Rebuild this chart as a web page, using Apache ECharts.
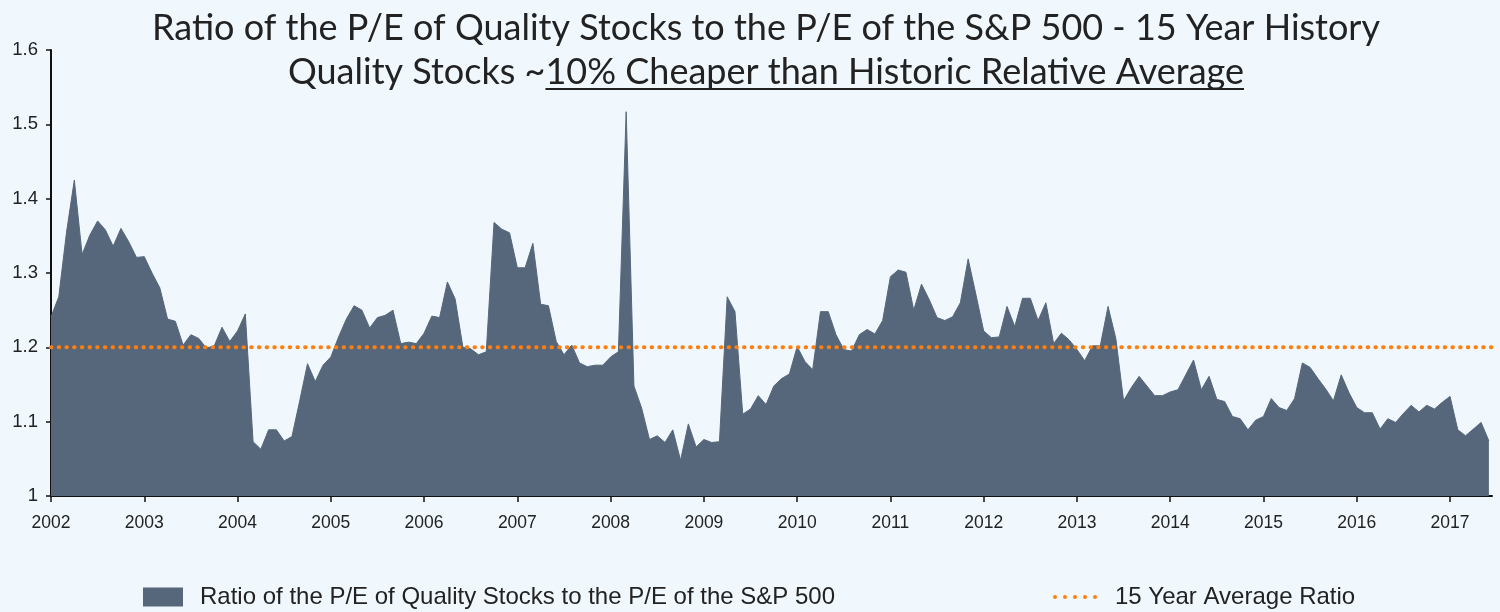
<!DOCTYPE html>
<html>
<head>
<meta charset="utf-8">
<script src="https://cdn.jsdelivr.net/npm/echarts@6/dist/echarts.min.js"></script>
<style>
  html, body { margin: 0; padding: 0; background: #f0f8fe; }
  #chart { width: 1500px; height: 612px; }
</style>
</head>
<body>
<div id="chart"></div>
<script>
// monthly ratio, Jan 2002 .. Jun 2017
var startYear = 2002;
var ratio = [
  1.241, 1.268, 1.355, 1.425, 1.325, 1.351, 1.370, 1.358, 1.336, 1.360, 1.342, 1.321,
  1.322, 1.300, 1.280, 1.238, 1.235, 1.203, 1.217, 1.212, 1.199, 1.202, 1.227, 1.208,
  1.222, 1.245, 1.073, 1.063, 1.089, 1.089, 1.074, 1.080, 1.128, 1.178, 1.154, 1.176,
  1.187, 1.214, 1.238, 1.256, 1.250, 1.226, 1.240, 1.243, 1.250, 1.205, 1.207, 1.205,
  1.219, 1.242, 1.240, 1.288, 1.265, 1.200, 1.198, 1.190, 1.194, 1.368, 1.359, 1.354,
  1.307, 1.307, 1.340, 1.258, 1.256, 1.208, 1.190, 1.203, 1.179, 1.174, 1.176, 1.176,
  1.187, 1.194, 1.517, 1.148, 1.118, 1.076, 1.081, 1.072, 1.089, 1.048, 1.097, 1.066,
  1.076, 1.072, 1.073, 1.268, 1.248, 1.110, 1.117, 1.135, 1.123, 1.148, 1.158, 1.164,
  1.201, 1.181, 1.170, 1.248, 1.248, 1.217, 1.197, 1.195, 1.217, 1.224, 1.218, 1.236,
  1.295, 1.304, 1.301, 1.250, 1.285, 1.264, 1.240, 1.236, 1.241, 1.260, 1.319, 1.271,
  1.222, 1.213, 1.214, 1.255, 1.228, 1.266, 1.266, 1.236, 1.260, 1.205, 1.219, 1.210,
  1.197, 1.182, 1.202, 1.202, 1.255, 1.212, 1.128, 1.146, 1.161, 1.148, 1.135, 1.135,
  1.140, 1.143, 1.163, 1.183, 1.143, 1.161, 1.130, 1.127, 1.107, 1.104, 1.089, 1.102,
  1.107, 1.131, 1.119, 1.115, 1.131, 1.179, 1.173, 1.158, 1.144, 1.128, 1.163, 1.139,
  1.119, 1.112, 1.112, 1.090, 1.104, 1.099, 1.111, 1.122, 1.113, 1.122, 1.117, 1.126,
  1.134, 1.089, 1.081, 1.090, 1.099, 1.074
];
var avgRatio = 1.2;
var xMin = 2002, xMax = 2017.45;
var seriesNames = ['Ratio of the P/E of Quality Stocks to the P/E of the S&P 500', '15 Year Average Ratio'];
var title1 = 'Ratio of the P/E of Quality Stocks to the P/E of the S&P 500 - 15 Year History';
var title2a = 'Quality Stocks ~';
var title2b = '10% Cheaper than Historic Relative Average';

var ratioData = ratio.map(function (v, i) { return [startYear + i / 12, v]; });
var avgData = [[xMin, avgRatio], [xMax, avgRatio]];

// underline position for the second title line
var titleFont = '36px Lato';
var ctx = document.createElement('canvas').getContext('2d');
ctx.font = titleFont;
var wA = ctx.measureText(title2a).width, wB = ctx.measureText(title2b).width;
var cx = 766, x2 = cx - (wA + wB) / 2;

// five dots for the average-ratio legend key
var dotsIcon = 'path://M0,2a2,2 0 1,0 4,0a2,2 0 1,0 -4,0z' +
    'M10,2a2,2 0 1,0 4,0a2,2 0 1,0 -4,0z' +
    'M20,2a2,2 0 1,0 4,0a2,2 0 1,0 -4,0z' +
    'M30,2a2,2 0 1,0 4,0a2,2 0 1,0 -4,0z' +
    'M40,2a2,2 0 1,0 4,0a2,2 0 1,0 -4,0z';

var ech = echarts.init(document.getElementById('chart'));
var option = {
    backgroundColor: '#f0f8fe',
    animation: false,
    grid: { left: 51, right: 8, top: 50, bottom: 116 },
    legend: [
        {
            data: [{ name: seriesNames[0], icon: 'rect' }],
            left: 138, top: 580,
            itemWidth: 40, itemHeight: 19,
            textStyle: { fontSize: 24, color: '#222', fontFamily: 'Liberation Sans, Arial', padding: [0, 0, 0, 12] }
        },
        {
            data: [{ name: seriesNames[1], icon: dotsIcon }],
            left: 1048, top: 580,
            itemWidth: 44, itemHeight: 4,
            itemStyle: { borderWidth: 0 },
            textStyle: { fontSize: 24, color: '#222', fontFamily: 'Liberation Sans, Arial', padding: [0, 0, 0, 13] }
        }
    ],
    xAxis: {
        type: 'value', min: xMin, max: xMax, interval: 1,
        axisLine: { lineStyle: { color: '#111', width: 2 } },
        axisTick: { length: 6, lineStyle: { color: '#111', width: 1.5 } },
        axisLabel: {
            margin: 18, fontSize: 17.5, color: '#222', fontFamily: 'Liberation Sans, Arial',
            showMaxLabel: false,
            formatter: function (v) { return Math.round(v) === v ? String(v) : ''; }
        },
        splitLine: { show: false }
    },
    yAxis: {
        type: 'value', min: 1, max: 1.6, interval: 0.1,
        axisLine: { show: true, lineStyle: { color: '#111', width: 2 } },
        axisTick: { show: true, length: 5, lineStyle: { color: '#111', width: 1.5 } },
        axisLabel: { margin: 13, fontSize: 18.5, color: '#222', fontFamily: 'Liberation Sans, Arial' },
        splitLine: { show: false }
    },
    series: [
        {
            name: seriesNames[0], type: 'line', data: ratioData,
            showSymbol: false, symbol: 'none',
            itemStyle: { color: '#56677c' },
            lineStyle: { width: 1, color: '#56677c' },
            areaStyle: { color: '#56677c', opacity: 1, origin: 'start' },
            z: 2
        },
        {
            name: seriesNames[1], type: 'line', data: avgData,
            showSymbol: false, symbol: 'none',
            itemStyle: { color: '#ff7f0e' },
            lineStyle: { width: 4, color: '#ff7f0e', type: [0.5, 7.2], cap: 'round' },
            z: 3
        }
    ],
    graphic: [
        { type: 'text', x: cx, y: 28, style: { text: title1, font: titleFont, fill: '#222', align: 'center', verticalAlign: 'middle' } },
        { type: 'text', x: x2, y: 72, style: { text: title2a, font: titleFont, fill: '#222', align: 'left', verticalAlign: 'middle' } },
        { type: 'text', x: x2 + wA, y: 72, style: { text: title2b, font: titleFont, fill: '#222', align: 'left', verticalAlign: 'middle' } },
        { type: 'line', shape: { x1: x2 + wA, y1: 89, x2: x2 + wA + wB, y2: 89 }, style: { stroke: '#222', lineWidth: 2 } }
    ]
};
ech.setOption(option);
</script>
</body>
</html>
